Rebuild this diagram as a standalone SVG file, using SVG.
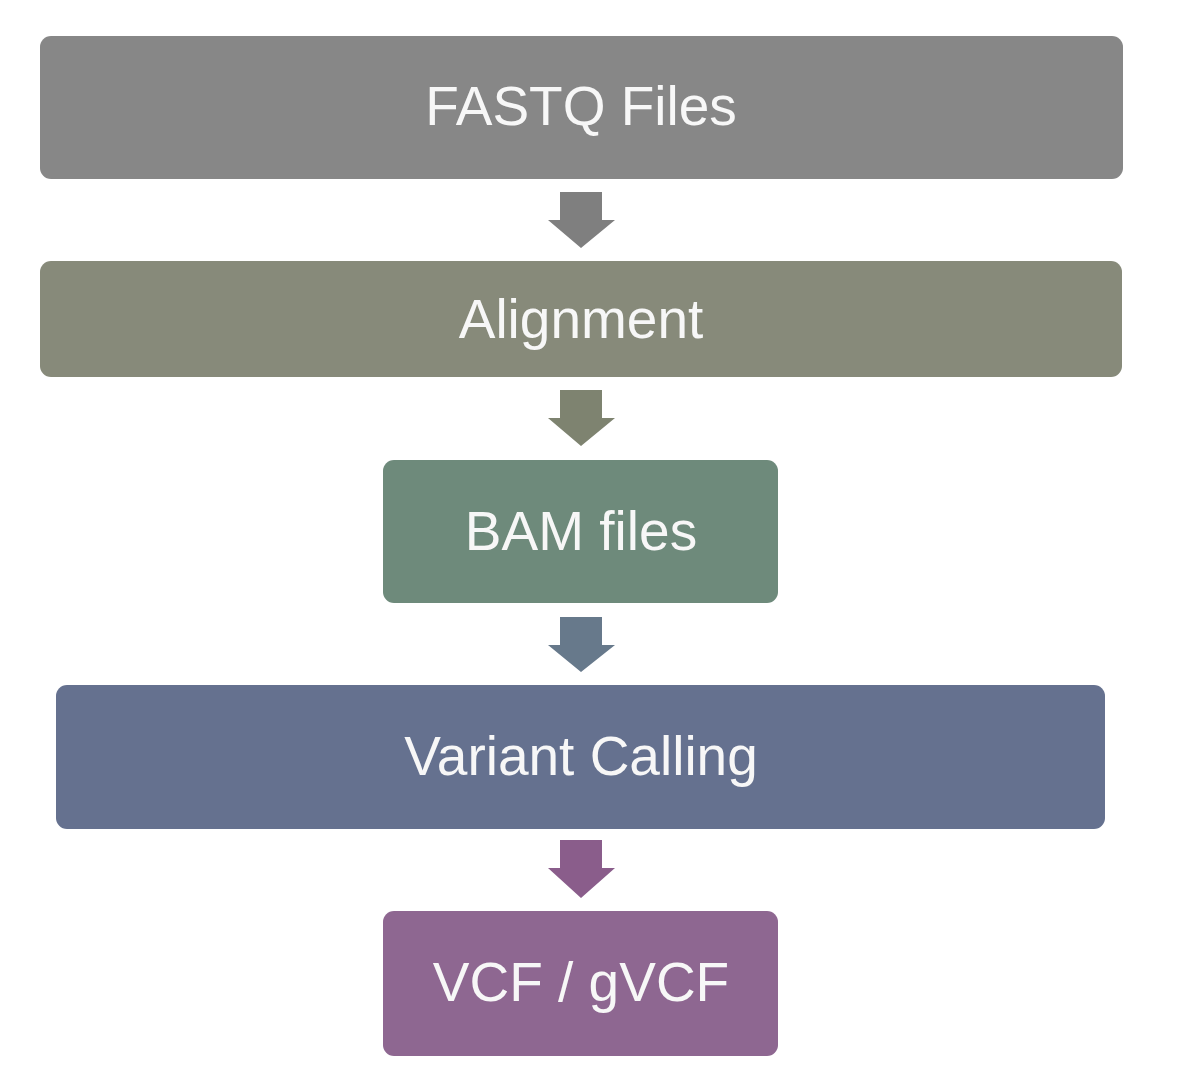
<svg xmlns="http://www.w3.org/2000/svg" width="1194" height="1068" viewBox="0 0 1194 1068">
<style>
.lbl{font-family:"Liberation Sans",Arial,sans-serif;font-size:55px;fill:#f7f7f7;text-anchor:middle}
</style>
<rect width="1194" height="1068" fill="#ffffff"/>
<g id="connectors">
<path d="M560,192 H602 V220 H615 L581,248 L548,220 H560 Z" fill="#7f7f7f"/>
<path d="M560,390 H602 V418 H615 L581,446 L548,418 H560 Z" fill="#7e8370"/>
<path d="M560,617 H602 V645 H615 L581,672 L548,645 H560 Z" fill="#67798b"/>
<path d="M560,840 H602 V868 H615 L581,898 L548,868 H560 Z" fill="#8a5d8b"/>
</g>
<g id="fastq"><rect x="40" y="36" width="1083" height="143" rx="11" fill="#878787"/><text class="lbl" x="581" y="125">FASTQ Files</text></g>
<g id="alignment"><rect x="40" y="261" width="1082" height="116" rx="11" fill="#878a7a"/><text class="lbl" x="581" y="338">Alignment</text></g>
<g id="bam"><rect x="383" y="460" width="395" height="143" rx="11" fill="#6e8a7b"/><text class="lbl" x="581" y="550">BAM files</text></g>
<g id="variant"><rect x="56" y="685" width="1049" height="144" rx="11" fill="#65718f"/><text class="lbl" x="581" y="775">Variant Calling</text></g>
<g id="vcf"><rect x="383" y="911" width="395" height="145" rx="11" fill="#8e6791"/><text class="lbl" x="581" y="1001">VCF / gVCF</text></g>
</svg>
